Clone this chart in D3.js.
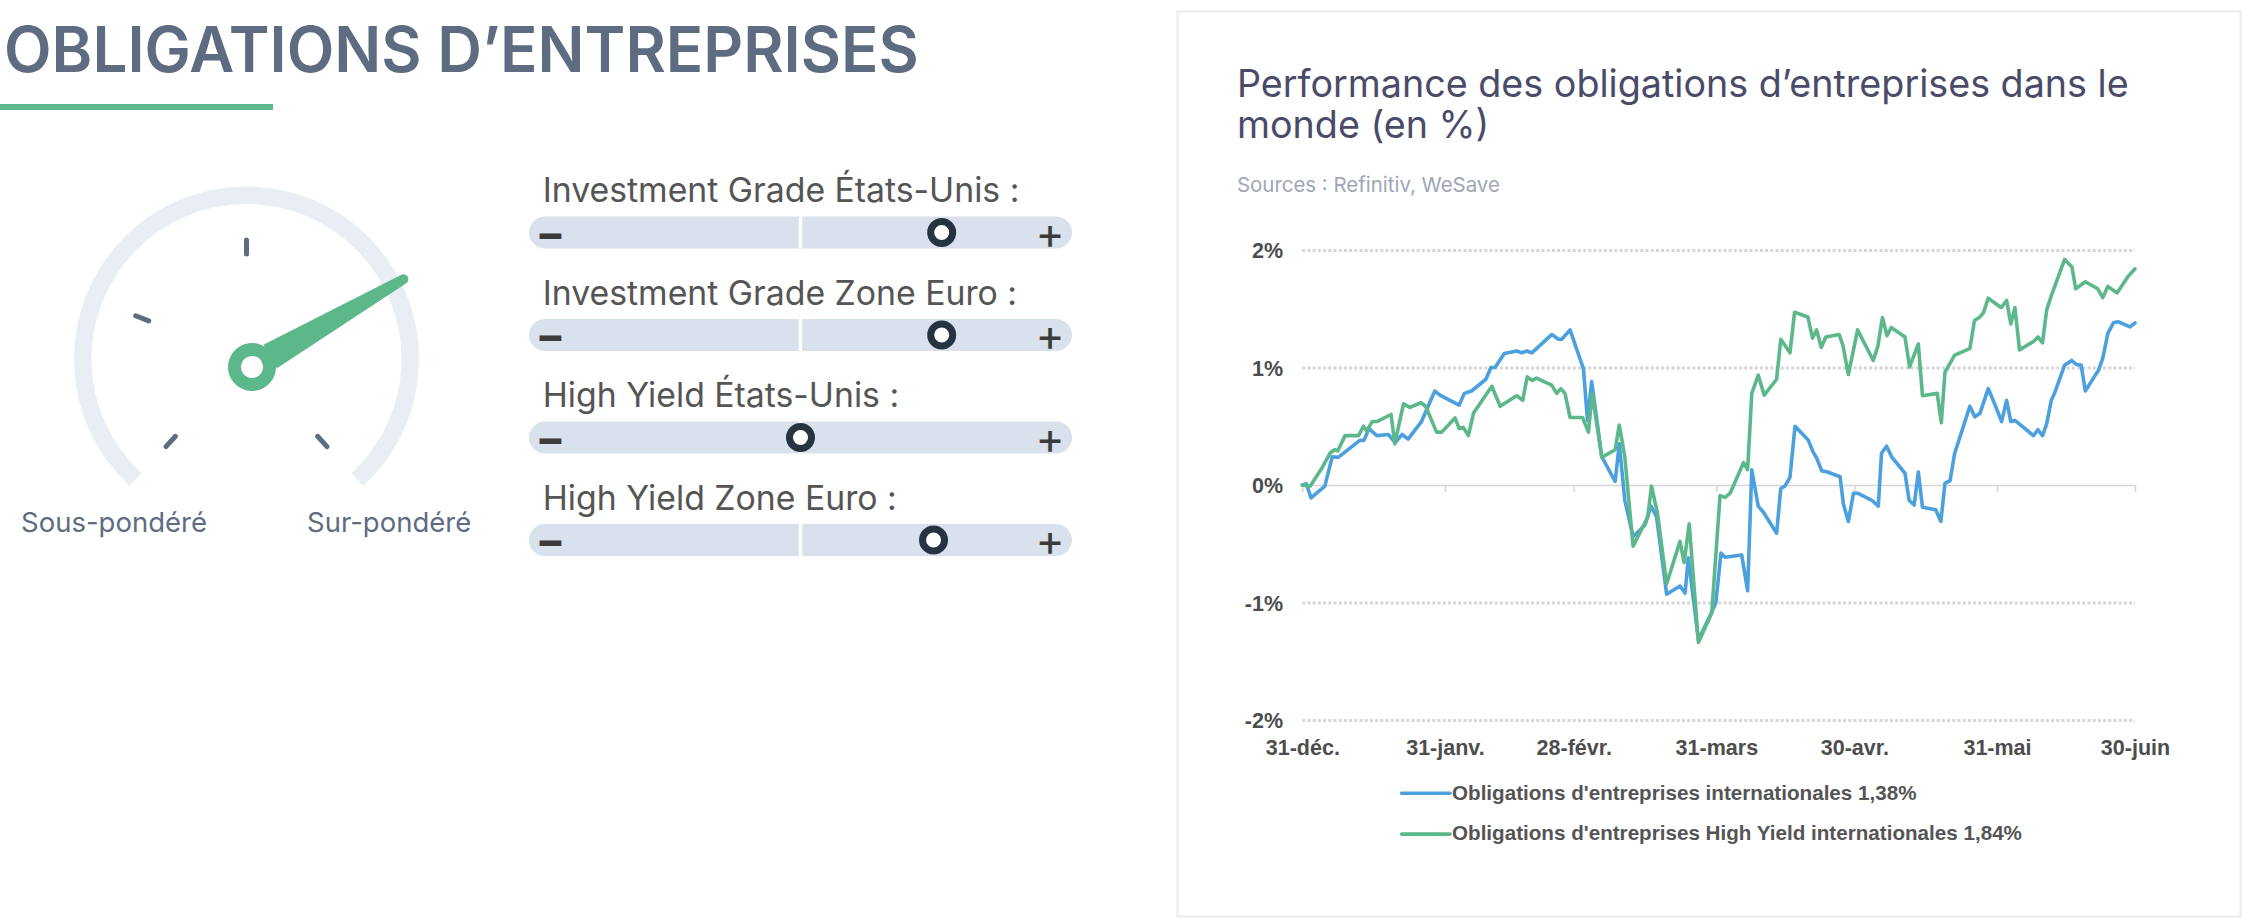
<!DOCTYPE html>
<html>
<head>
<meta charset="utf-8">
<script src="https://cdn.jsdelivr.net/npm/d3@7"></script>
<style>
  html, body { margin: 0; padding: 0; background: #ffffff; }
  svg { display: block; }
</style>
</head>
<body>
<script>
// ---------------- DATA ----------------
const mainTitle = "OBLIGATIONS D’ENTREPRISES";
const gaugeLabels = ["Sous-pondéré", "Sur-pondéré"];
const gaugeTicks = [-1, -0.5, 0, 1];
const gaugeValue = 0.436;

const sliderLabels = [
  "Investment Grade États-Unis :",
  "Investment Grade Zone Euro :",
  "High Yield États-Unis :",
  "High Yield Zone Euro :"
];
const sliderValues = [0.52, 0.52, 0, 0.49];

const chartTitleLines = ["Performance des obligations d’entreprises dans le", "monde (en %)"];
const sourceText = "Sources : Refinitiv, WeSave";

const yTickValues = [-2, -1, 0, 1, 2];
const yTickLabels = ["-2%", "-1%", "0%", "1%", "2%"];
const xTickDays = [0, 31, 59, 90, 120, 151, 181];
const xTickLabels = ["31-déc.", "31-janv.", "28-févr.", "31-mars", "30-avr.", "31-mai", "30-juin"];

const legendLabels = [
  "Obligations d'entreprises internationales 1,38%",
  "Obligations d'entreprises High Yield internationales 1,84%"
];

// [days since 31-déc., performance in %]
const seriesIG = [
  [0,0],[0.9,0.01],[1.9,-0.11],[4.9,-0.01],[6.5,0.24],[7.8,0.235],[12.5,0.38],[13.4,0.38],[14.5,0.48],[16.2,0.42],
  [18.7,0.43],[20.2,0.36],[21.7,0.43],[23,0.39],[25.9,0.54],[28.8,0.80],[29.9,0.765],[34.1,0.68],[35.2,0.78],[36.8,0.80],
  [39.9,0.90],[41,1.00],[41.9,1.00],[43.9,1.12],[46.6,1.14],[47.7,1.125],[48.8,1.14],[49.9,1.125],[54.2,1.28],[55.7,1.24],
  [56.4,1.24],[58.2,1.32],[61.1,0.99],[62,0.55],[62.9,0.88],[65.1,0.24],[68,0.03],[68.9,0.35],[70.1,-0.13],[71.9,-0.44],
  [74.5,-0.34],[75.8,-0.18],[77,-0.27],[79.2,-0.93],[82.1,-0.86],[83.2,-0.92],[83.9,-0.62],[86.1,-1.32],[89,-1.08],[89.9,-1.0],
  [91,-0.58],[91.9,-0.615],[95.5,-0.595],[96.8,-0.90],[97.7,0.13],[99.1,-0.18],[100.2,-0.23],[103.1,-0.41],[104,-0.03],[104.9,-0.01],
  [106,0.065],[107.1,0.50],[110,0.38],[111.1,0.275],[111.8,0.23],[112.9,0.12],[114,0.113],[116.9,0.07],[117.6,-0.16],[118.7,-0.31],
  [119.8,-0.07],[120.7,-0.07],[123.8,-0.13],[125.2,-0.18],[125.9,0.27],[127,0.33],[128.1,0.24],[131,0.10],[131.9,-0.13],[133,-0.17],
  [133.9,0.11],[134.8,-0.19],[137.7,-0.21],[138.8,-0.31],[139.7,0.014],[140.8,0.037],[141.8,0.27],[143.3,0.45],[145.1,0.67],[146.2,0.58],
  [147.3,0.61],[149.1,0.82],[150.6,0.68],[152,0.54],[153.1,0.72],[154,0.54],[154.9,0.55],[157.1,0.48],[158.9,0.42],[159.9,0.47],
  [160.9,0.42],[161.8,0.52],[162.8,0.72],[163.6,0.79],[165.7,1.02],[167.2,1.06],[168.3,1.025],[169.3,1.02],[170.2,0.80],[173.1,0.98],
  [174,1.08],[175.1,1.29],[176.3,1.38],[177.3,1.39],[179.9,1.345],[181,1.38]
];
const seriesHY = [
  [0,0],[1.7,-0.01],[4.2,0.14],[6,0.27],[7,0.30],[7.7,0.29],[9.3,0.42],[12.2,0.42],[13.3,0.50],[14,0.46],
  [15.2,0.54],[16.2,0.54],[19.3,0.60],[20.1,0.35],[22,0.69],[23.4,0.66],[25.8,0.70],[26.8,0.67],[29.2,0.45],[30.3,0.45],
  [33.2,0.57],[34.1,0.48],[35,0.49],[36.1,0.42],[37.2,0.61],[41.2,0.84],[43,0.67],[46.6,0.76],[47.9,0.72],[48.9,0.92],
  [50,0.89],[50.9,0.91],[54.2,0.85],[55.3,0.78],[56.2,0.82],[57.1,0.78],[58.2,0.575],[60.9,0.575],[62.2,0.45],[63,0.78],
  [65.1,0.235],[68,0.30],[68.9,0.51],[70.1,0.24],[71.9,-0.52],[74.1,-0.35],[75.1,-0.27],[75.9,-0.01],[77.2,-0.24],[79.2,-0.84],
  [82.1,-0.48],[83,-0.66],[84.1,-0.33],[86.1,-1.34],[89,-1.09],[90.8,-0.09],[91.9,-0.105],[93,-0.07],[95.9,0.19],[96.8,0.13],
  [97.7,0.78],[99.1,0.935],[100.4,0.765],[103.1,0.90],[104,1.24],[106,1.125],[107,1.47],[109.9,1.43],[110.9,1.25],[111.8,1.32],
  [112.8,1.17],[113.8,1.26],[116.7,1.28],[117.5,1.19],[118.7,0.94],[120.7,1.32],[124.1,1.06],[125.1,1.18],[126.1,1.425],[127.1,1.27],
  [128,1.34],[131,1.26],[132,1.005],[133.9,1.20],[134.8,0.76],[138,0.78],[138.9,0.53],[139.7,0.96],[141.8,1.105],[145.1,1.16],
  [146.1,1.40],[147.3,1.43],[148.1,1.47],[149.1,1.59],[151.9,1.51],[153.1,1.57],[154,1.37],[154.9,1.51],[155.9,1.15],[158.9,1.22],
  [159.9,1.26],[160.9,1.21],[161.8,1.49],[162.8,1.61],[165.7,1.92],[167.3,1.855],[168.1,1.67],[170.2,1.73],[172.9,1.67],[174,1.595],
  [175.1,1.69],[177.1,1.635],[179.6,1.78],[181,1.84]
];

// ---------------- STYLE ----------------
const C = {
  slate: "#5e6c82",
  green: "#5cb88a",
  blue: "#4ca0de",
  arc: "#e9eef4",
  track: "#d9e1ec",
  knob: "#263340",
  label: "#555555",
  chartTitle: "#4a4b68",
  source: "#9ea6b7",
  axis: "#4d4d4d",
  grid: "#d6d6d6",
  border: "#ebebeb"
};

const W = 2244, H = 919;
const svg = d3.select("body").append("svg").attr("width", W).attr("height", H);

function fitWidth(sel, target) {
  const len = sel.node().getComputedTextLength();
  const fs = +sel.attr("font-size");
  const nfs = fs * target / len;
  sel.attr("font-size", nfs);
  return nfs;
}

// ---------------- LEFT: TITLE ----------------
const title = svg.append("text")
  .attr("x", 0).attr("y", 0)
  .attr("font-family", "Inter, 'Noto Sans', sans-serif")
  .attr("font-weight", 600)
  .attr("font-size", 60)
  .attr("fill", C.slate)
  .text(mainTitle);
const tfs = fitWidth(title, 915);
const sy = 45.7 / (0.727 * tfs);
title.attr("transform", `translate(4,72.3) scale(1,${sy})`);

svg.append("rect").attr("x", 0).attr("y", 104).attr("width", 273).attr("height", 6).attr("fill", C.green);

// ---------------- GAUGE ----------------
const gCx = 246.5, gCy = 359;
const gaugeAngle = d3.scaleLinear().domain([-1, 1]).range([-137.4, 137.4]);
const rad = a => a * Math.PI / 180;
const gauge = svg.append("g").attr("transform", `translate(${gCx},${gCy})`);
gauge.append("path")
  .attr("d", d3.arc()({ innerRadius: 155, outerRadius: 172.5, startAngle: rad(gaugeAngle(-1)), endAngle: rad(gaugeAngle(1)), cornerRadius: 8.7 }))
  .attr("fill", C.arc);
gauge.selectAll("line.tick").data(gaugeTicks).join("line")
  .attr("class", "tick")
  .attr("x1", d => 105 * Math.sin(rad(gaugeAngle(d))))
  .attr("y1", d => -105 * Math.cos(rad(gaugeAngle(d))))
  .attr("x2", d => 119 * Math.sin(rad(gaugeAngle(d))))
  .attr("y2", d => -119 * Math.cos(rad(gaugeAngle(d))))
  .attr("stroke", C.slate).attr("stroke-width", 5).attr("stroke-linecap", "round");

const needle = svg.append("g").attr("transform", `translate(252,367) rotate(${gaugeAngle(gaugeValue)})`);
needle.append("path")
  .attr("d", "M -13.5 -21 L -5 -175 A 5 5 0 0 1 5 -175 L 13.5 -21 Z")
  .attr("fill", C.green);
needle.append("circle").attr("r", 24).attr("fill", C.green);
needle.append("circle").attr("r", 11).attr("fill", "#ffffff");

const gl1 = svg.append("text").attr("x", 21).attr("y", 532)
  .attr("font-family", "Inter, sans-serif").attr("font-size", 26).attr("fill", C.slate).text(gaugeLabels[0]);
const gfs = fitWidth(gl1, 186);
svg.append("text").attr("x", 307).attr("y", 532)
  .attr("font-family", "Inter, sans-serif").attr("font-size", gfs).attr("fill", C.slate).text(gaugeLabels[1]);

// ---------------- SLIDERS ----------------
const trackX0 = 529, trackX1 = 1072;
const sliderX = d3.scaleLinear().domain([-1, 1]).range([trackX0, trackX1]);
const sliderY = d3.scaleLinear().domain([0, 3]).range([232.5, 540]);
const sl = svg.append("g");
let labelFs = 28;
sliderLabels.forEach((lab, i) => {
  const cy = sliderY(i);
  const t = sl.append("text").attr("x", 542.7).attr("y", cy - 30.5)
    .attr("font-family", "Inter, sans-serif").attr("font-size", labelFs)
    .attr("fill", C.label).text(lab);
  if (i === 0) labelFs = fitWidth(t, 477);
  sl.append("rect").attr("x", trackX0).attr("y", cy - 16).attr("width", trackX1 - trackX0).attr("height", 32)
    .attr("rx", 16).attr("fill", C.track);
  sl.append("line").attr("x1", sliderX(0)).attr("x2", sliderX(0)).attr("y1", cy - 16).attr("y2", cy + 16)
    .attr("stroke", "#ffffff").attr("stroke-width", 3.5);
  sl.append("text").attr("x", 550.5).attr("y", cy).attr("text-anchor", "middle").attr("dominant-baseline", "central")
    .attr("font-family", "Inter, sans-serif").attr("font-size", 44).attr("font-weight", 700).attr("fill", "#3b3b3b").text("−");
  sl.append("text").attr("x", 1050).attr("y", cy).attr("text-anchor", "middle").attr("dominant-baseline", "central")
    .attr("font-family", "Inter, sans-serif").attr("font-size", 44).attr("font-weight", 400).attr("fill", "#3b3b3b").text("+");
  sl.append("circle").attr("cx", sliderX(sliderValues[i])).attr("cy", cy).attr("r", 11)
    .attr("fill", "#ffffff").attr("stroke", C.knob).attr("stroke-width", 7);
});

// ---------------- CHART CARD ----------------
svg.append("rect").attr("x", 1177.5).attr("y", 11.5).attr("width", 1063).attr("height", 905)
  .attr("fill", "#ffffff").attr("stroke", C.border).attr("stroke-width", 2);

const ct1 = svg.append("text").attr("x", 1237).attr("y", 96.7)
  .attr("font-family", "Inter, sans-serif").attr("font-size", 36).attr("fill", C.chartTitle).text(chartTitleLines[0]);
const cfs = fitWidth(ct1, 892);
svg.append("text").attr("x", 1237).attr("y", 138.3)
  .attr("font-family", "Inter, sans-serif").attr("font-size", cfs).attr("fill", C.chartTitle).text(chartTitleLines[1]);
const src = svg.append("text").attr("x", 1237).attr("y", 191.7)
  .attr("font-family", "Inter, sans-serif").attr("font-size", 20).attr("fill", C.source).text(sourceText);
fitWidth(src, 263);

// scales
const x = d3.scaleLinear().domain([0, 181]).range([1302.3, 2135]);
const y = d3.scaleLinear().domain([-2, 2]).range([720, 250]);
const plotW = x.range()[1] - x.range()[0];

// y grid + labels
const yAxis = svg.append("g").attr("transform", `translate(${x.range()[0]},0)`)
  .call(d3.axisLeft(y).tickValues(yTickValues).tickFormat((d, i) => yTickLabels[i]).tickSize(-plotW).tickPadding(19.3));
yAxis.select(".domain").remove();
yAxis.selectAll(".tick line")
  .attr("stroke", C.grid)
  .attr("stroke-width", d => d === 0 ? 1.6 : 2.8)
  .attr("stroke-dasharray", d => d === 0 ? null : "3,2.2");
yAxis.selectAll(".tick text")
  .attr("font-family", "'Liberation Sans', Arial, sans-serif").attr("font-weight", 700)
  .attr("font-size", 21.5).attr("fill", C.axis).attr("dy", "0.36em");

// x ticks on the zero line
const xTicks = svg.append("g").attr("transform", `translate(0,${y(0)})`)
  .call(d3.axisBottom(x).tickValues(xTickDays).tickFormat("").tickSize(7));
xTicks.select(".domain").remove();
xTicks.selectAll(".tick line").attr("stroke", C.grid).attr("stroke-width", 1.6);

// x labels at bottom
const xLab = svg.append("g").attr("transform", `translate(0,740)`)
  .call(d3.axisBottom(x).tickValues(xTickDays).tickFormat((d, i) => xTickLabels[i]).tickSize(0).tickPadding(0));
xLab.select(".domain").remove();
xLab.selectAll(".tick text")
  .attr("font-family", "'Liberation Sans', Arial, sans-serif").attr("font-weight", 700)
  .attr("font-size", 21.5).attr("fill", C.axis).attr("dy", "0.71em");

// lines
const line = d3.line().x(d => x(d[0])).y(d => y(d[1]));
svg.append("path").datum(seriesIG).attr("d", line)
  .attr("fill", "none").attr("stroke", C.blue).attr("stroke-width", 3.6)
  .attr("stroke-linejoin", "round").attr("stroke-linecap", "round");
svg.append("path").datum(seriesHY).attr("d", line)
  .attr("fill", "none").attr("stroke", C.green).attr("stroke-width", 3.6)
  .attr("stroke-linejoin", "round").attr("stroke-linecap", "round");

// legend
const legendColors = [C.blue, C.green];
let legFs = 20;
legendLabels.forEach((lab, i) => {
  const ly = 793.3 + i * 40.8;
  svg.append("line").attr("x1", 1401.7).attr("x2", 1450).attr("y1", ly).attr("y2", ly)
    .attr("stroke", legendColors[i]).attr("stroke-width", 3.6).attr("stroke-linecap", "round");
  const t = svg.append("text").attr("x", 1452).attr("y", ly + 6.2)
    .attr("font-family", "'Liberation Sans', Arial, sans-serif").attr("font-weight", 700)
    .attr("font-size", legFs).attr("fill", C.label).text(lab);
  if (i === 0) legFs = fitWidth(t, 465);
});
</script>
</body>
</html>
